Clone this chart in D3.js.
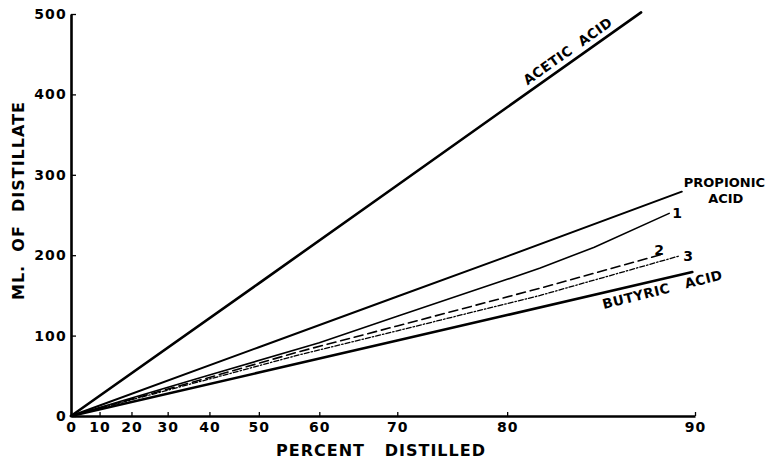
<!DOCTYPE html>
<html>
<head>
<meta charset="utf-8">
<script src="https://cdn.jsdelivr.net/npm/d3@7"></script>
<style>
  body { margin: 0; background: #fff; }
  svg { display: block; }
  text { font-family: "DejaVu Sans", sans-serif; font-weight: bold; fill: #000; }
</style>
</head>
<body>
<div id="plot"></div>
<script>
//Tick values
const pctTicks = [0, 10, 20, 30, 40, 50, 60, 70, 80, 90];
const mlTicks = [0, 100, 200, 300, 400, 500];

//Curves: [percent distilled, ml of distillate]
const acetic = [[0, 0], [50, 165], [70, 287], [80, 384], [87.8, 502]];
const propionic = [[0, 0], [50, 85.5], [70, 148.6], [80, 198.6], [89.5, 279]];
const mixture1 = [[0, 0], [40, 51], [60, 91], [70, 124], [80, 170], [82.3, 184], [85.5, 210], [89, 252]];
const mixture2 = [[0, 0], [40, 48], [56.9, 80], [70, 112], [82.3, 159], [88.7, 201]];
const mixture3 = [[0, 0], [40, 46], [56.9, 76], [70, 106], [82.3, 150], [89.4, 199]];
const butyric = [[0, 0], [50, 54], [70, 94], [80, 125.5], [89.9, 179]];

const w = 771, h = 460;
const svg = d3.select('#plot').append('svg').attr('width', w).attr('height', h);

//x axis is drawn on -ln(1 - p) so pure acids come out straight
const toU = p => -Math.log(1 - p / 100);
const xU = d3.scaleLinear().domain([0, toU(90)]).range([71, 695]);
const x = p => xU(toU(p));
const y = d3.scaleLinear().domain([0, 500]).range([416, 14]);

//Axes
const xAxis = d3.axisBottom(xU)
	.tickValues(pctTicks.map(toU))
	.tickFormat((d, i) => pctTicks[i])
	.tickSizeInner(-4).tickSizeOuter(0).tickPadding(6);
const gx = svg.append('g').attr('transform', `translate(0,${y(0)})`).call(xAxis);
gx.select('.domain').attr('stroke-width', 2.4);
gx.selectAll('.tick line').attr('stroke-width', 1.3);
gx.selectAll('.tick text').style('font-size', '14px').style('letter-spacing', '1px');

const yAxis = d3.axisLeft(y)
	.tickValues(mlTicks)
	.tickSizeInner(-5).tickSizeOuter(0).tickPadding(4);
const gy = svg.append('g').attr('transform', `translate(${xU(0)},0)`).call(yAxis);
gy.select('.domain').attr('stroke-width', 2.6);
gy.selectAll('.tick line').attr('stroke-width', 1.3);
gy.selectAll('.tick text').style('font-size', '14px').style('letter-spacing', '1.2px');
svg.selectAll('.tick text').attr('font-family', null);

//Axis titles
svg.append('text')
	.attr('x', (xU.range()[0] + xU.range()[1]) / 2 - 2).attr('y', 456)
	.attr('text-anchor', 'middle')
	.style('font-size', '16px').style('letter-spacing', '1px').style('white-space', 'pre')
	.text('PERCENT   DISTILLED');
svg.append('text')
	.attr('transform', `translate(24,${y(268)}) rotate(-90)`)
	.attr('text-anchor', 'middle')
	.style('font-size', '16px').style('letter-spacing', '1px').style('white-space', 'pre')
	.text('ML.  OF  DISTILLATE');

//Curves
const line = d3.line().x(d => x(d[0])).y(d => y(d[1]));
const series = [
	{data: acetic, width: 2.6, dash: null},
	{data: propionic, width: 2, dash: null},
	{data: mixture1, width: 1.6, dash: null},
	{data: mixture2, width: 1.6, dash: '9,5'},
	{data: mixture3, width: 1.3, dash: '5,2,1.5,2'},
	{data: butyric, width: 2.6, dash: null}
];
svg.selectAll('.curve')
	.data(series)
	.enter().append('path').attr('class', 'curve')
	.attr('d', d => line(d.data))
	.attr('fill', 'none')
	.attr('stroke', '#000')
	.attr('stroke-width', d => d.width)
	.attr('stroke-dasharray', d => d.dash)
	.attr('stroke-linecap', 'round');

//Labels that run along a curve
function angleOf(data){
	const a = data[0], b = data[data.length - 1];
	return Math.atan2(y(b[1]) - y(a[1]), x(b[0]) - x(a[0])) * 180 / Math.PI;
}
function pointAt(data, px){
	//pixel position on the curve at a given horizontal pixel
	const pts = data.map(d => [x(d[0]), y(d[1])]);
	for(let i = 1; i < pts.length; i++){
		if(px <= pts[i][0]){
			const t = (px - pts[i-1][0]) / (pts[i][0] - pts[i-1][0]);
			return [px, pts[i-1][1] + t * (pts[i][1] - pts[i-1][1])];
		}
	}
	return pts[pts.length - 1];
}

const ap = pointAt(acetic, 574);
svg.append('text')
	.attr('transform', `translate(${ap[0]},${ap[1]}) rotate(${angleOf(acetic)}) translate(0,-6)`)
	.attr('text-anchor', 'middle')
	.style('font-size', '13.5px').style('letter-spacing', '0.5px').style('white-space', 'pre')
	.text('ACETIC  ACID');

const bp = pointAt(butyric, 660);
svg.append('text')
	.attr('transform', `translate(${bp[0]},${bp[1]}) rotate(${angleOf(butyric) - 1}) translate(0,15)`)
	.attr('text-anchor', 'middle')
	.style('font-size', '13.5px').style('letter-spacing', '0.5px').style('white-space', 'pre')
	.text('BUTYRIC   ACID');

//End labels
const pe = propionic[propionic.length - 1];
svg.append('text').attr('x', x(pe[0]) + 2).attr('y', y(pe[1]) - 5)
	.style('font-size', '13px').text('PROPIONIC');
svg.append('text').attr('x', x(pe[0]) + 44).attr('y', y(pe[1]) + 11)
	.attr('text-anchor', 'middle')
	.style('font-size', '13px').text('ACID');

const m1 = mixture1[mixture1.length - 1];
svg.append('text').attr('x', x(m1[0]) + 3).attr('y', y(m1[1])).attr('dy', '0.35em')
	.style('font-size', '14px').text('1');
const m2 = mixture2[mixture2.length - 1];
svg.append('text').attr('x', x(m2[0]) + 2).attr('y', y(m2[1]) + 1)
	.attr('text-anchor', 'end')
	.style('font-size', '14px').text('2');
const m3 = mixture3[mixture3.length - 1];
svg.append('text').attr('x', x(m3[0]) + 4).attr('y', y(m3[1])).attr('dy', '0.35em')
	.style('font-size', '14px').text('3');
</script>
</body>
</html>
